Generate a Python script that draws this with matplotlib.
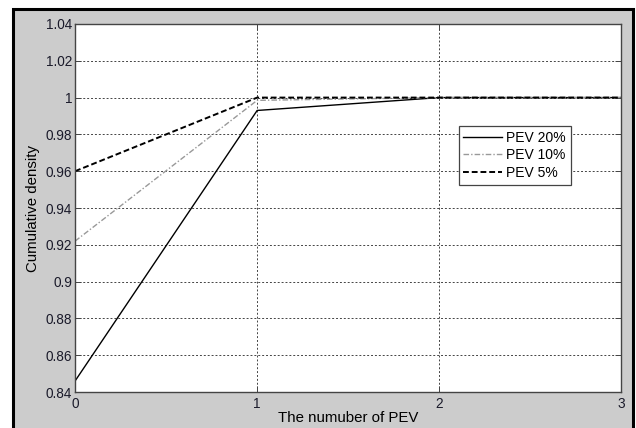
import matplotlib
matplotlib.use("Agg")
import matplotlib.pyplot as plt
from matplotlib.patches import Rectangle

# data
pev_count = [0, 1, 2, 3]
pev_20 = [0.846, 0.993, 1.0, 1.0]
pev_10 = [0.922, 0.9985, 1.0, 1.0]
pev_5 = [0.960, 1.0, 1.0, 1.0]

y_ticks = [0.84, 0.86, 0.88, 0.9, 0.92, 0.94, 0.96, 0.98, 1.0, 1.02, 1.04]
y_tick_labels = ["0.84", "0.86", "0.88", "0.9", "0.92", "0.94", "0.96",
                 "0.98", "1", "1.02", "1.04"]

plt.rcParams["font.family"] = ["Liberation Sans", "DejaVu Sans"]

fig = plt.figure(figsize=(6.36, 4.28), dpi=100, facecolor="white")

# gray panel with black frame, like a MATLAB figure window
panel = Rectangle((0.0204, -0.02), 0.975, 0.999, transform=fig.transFigure,
                  facecolor="#cccccc", edgecolor="black", linewidth=2.2,
                  zorder=-10)
fig.patches.append(panel)

ax = fig.add_axes([0.118, 0.084, 0.859, 0.86])
ax.set_zorder(5)
ax.set_facecolor("white")

ax.plot(pev_count, pev_20, color="black", linestyle="-", linewidth=1.0,
        label="PEV 20%")
ax.plot(pev_count, pev_10, color="#999999", linestyle="-.", linewidth=1.0,
        dashes=(4, 1.5, 1, 1.5), label="PEV 10%")
ax.plot(pev_count, pev_5, color="black", linestyle="--", linewidth=1.4,
        dashes=(3, 1.5), label="PEV 5%")

ax.set_xlim(0, 3)
ax.set_ylim(0.84, 1.04)
ax.set_xticks(pev_count)
ax.set_yticks(y_ticks)
ax.set_yticklabels(y_tick_labels)

ax.grid(True, linestyle=(0, (2, 2)), color="#444444", linewidth=0.7)
ax.tick_params(direction="in", length=4, width=0.7, color="#444444",
               labelsize=9.8, labelcolor="#1a1a2a", top=True, right=True)
ax.tick_params(axis="x", pad=3.5)
ax.tick_params(axis="y", pad=2)
for s in ax.spines.values():
    s.set_color("#444444")
    s.set_linewidth(1.0)

ax.set_xlabel("The numuber of PEV", fontsize=10.8, labelpad=0)
ax.set_ylabel("Cumulative density", fontsize=10.8, labelpad=4)

leg = ax.legend(loc="upper left", bbox_to_anchor=(0.702, 0.723),
                fontsize=10, fancybox=False, framealpha=1, borderpad=0.35,
                labelspacing=0.25, handlelength=2.8, handletextpad=0.3,
                borderaxespad=0)
leg.get_frame().set_edgecolor("#444444")
leg.get_frame().set_linewidth(0.9)

plt.savefig("out.png", dpi=100, facecolor="white")
